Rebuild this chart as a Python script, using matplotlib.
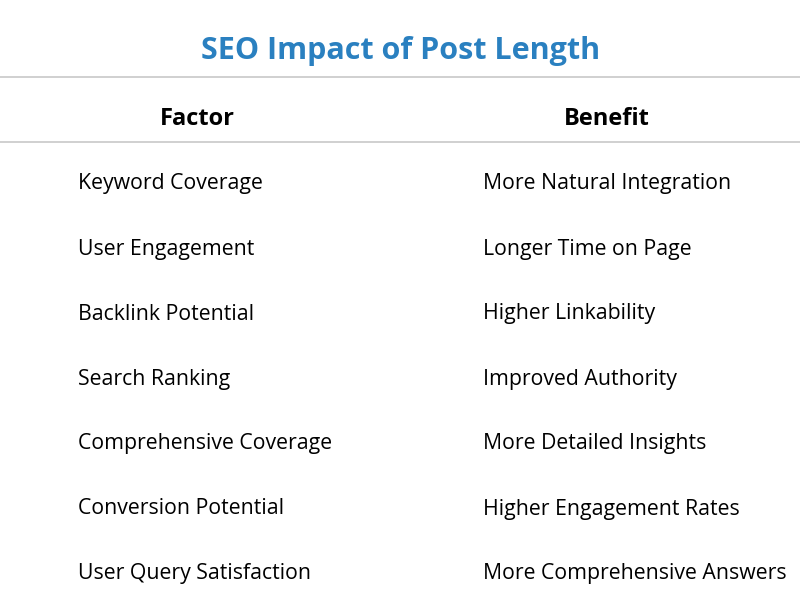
import matplotlib
matplotlib.use("Agg")
import matplotlib.pyplot as plt

title = "SEO Impact of Post Length"
headers = ["Factor", "Benefit"]
factors = ["Keyword Coverage", "User Engagement", "Backlink Potential", "Search Ranking",
           "Comprehensive Coverage", "Conversion Potential", "User Query Satisfaction"]
benefits = ["More Natural Integration", "Longer Time on Page", "Higher Linkability",
            "Improved Authority", "More Detailed Insights", "Higher Engagement Rates",
            "More Comprehensive Answers"]

W, H = 800, 610
fig = plt.figure(figsize=(W/100, H/100), dpi=100)
ax = fig.add_axes([0, 0, 1, 1])
ax.set_xlim(0, W); ax.set_ylim(H, 0); ax.axis("off")
font = "Open Sans"

ax.text(401, 51, title, ha="center", va="center", fontsize=22, fontweight="bold",
        color="#2a80c0", family=font)
for y in (77, 142):
    ax.plot([0, W], [y, y], color="#c8c8c8", lw=1.2)
ax.text(197, 119, headers[0], ha="center", va="center", fontsize=17, fontweight="bold", family=font)
ax.text(607, 119, headers[1], ha="center", va="center", fontsize=17, fontweight="bold", family=font)
for i, (f, b) in enumerate(zip(factors, benefits)):
    y = 184 + 65 * i
    ax.text(78, y, f, ha="left", va="center", fontsize=15.3, family=font)
    ax.text(483, y, b, ha="left", va="center", fontsize=15.3, family=font)

fig.savefig("out.png", dpi=100)
